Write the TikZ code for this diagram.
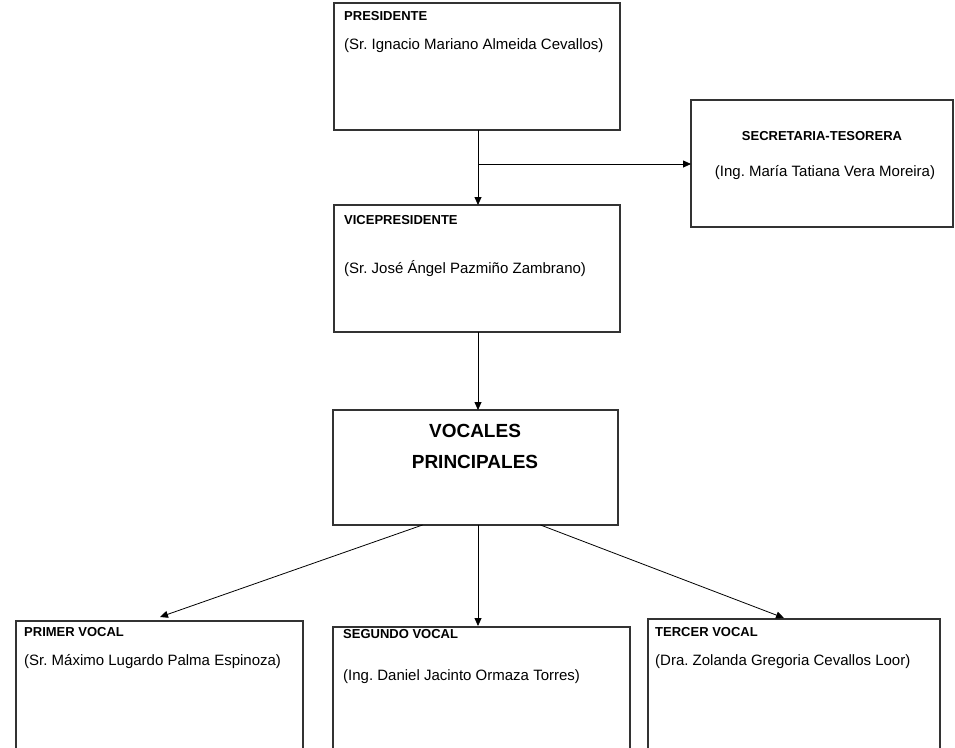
\documentclass[tikz,border=0pt]{standalone}
\usepackage{fontspec}
\setmainfont{Liberation Sans}
\frenchspacing
\usetikzlibrary{arrows.meta,calc}
\begin{document}
\begin{tikzpicture}[x=1pt,y=-1pt,
  box/.style={draw=black!80,line width=1.1pt,anchor=north west,inner sep=0pt,outer sep=0pt},
  ttl/.style={font=\fontsize{13}{15}\selectfont\bfseries,anchor=west,inner sep=0pt},
  nm/.style={font=\fontsize{15}{17}\selectfont,anchor=west,inner sep=0pt},
  arr/.style={line width=0.8pt,-{Triangle[length=8pt,width=7pt]}},
  ln/.style={line width=0.8pt}]
\useasboundingbox (0,0) rectangle (955,747);
\clip (0,0) rectangle (955,747);
\fill[white] (0,0) rectangle (955,747);
% boxes
\node[box,minimum width=286pt,minimum height=127pt] (pres) at (334,3) {};
\node[box,minimum width=262pt,minimum height=127pt] (sec) at (691,100) {};
\node[box,minimum width=286pt,minimum height=127pt] (vice) at (334,205) {};
\node[box,minimum width=285pt,minimum height=115pt] (voc) at (333,410) {};
\node[box,minimum width=287pt,minimum height=140pt] (pri) at (16,621) {};
\node[box,minimum width=297pt,minimum height=140pt] (seg) at (333,627) {};
\node[box,minimum width=292pt,minimum height=140pt] (ter) at (648,619) {};
% texts
\node[ttl] (t1) at (344,16) {PRESIDENTE};
\node[nm] (n1) at (344,46) {(Sr. Ignacio Mariano Almeida Cevallos)};
\node[ttl,anchor=center] (t2) at (822,136) {SECRETARIA-TESORERA};
\node[nm,anchor=center] (n2) at (825,173) {(Ing. María Tatiana Vera Moreira)};
\node[ttl] (t3) at (344,220) {VICEPRESIDENTE};
\node[nm] (n3) at (344,269) {(Sr. José Ángel Pazmiño Zambrano)};
\node[font=\fontsize{19}{31}\selectfont\bfseries,align=center,inner sep=0pt,anchor=north] (t4) at (475,424) {VOCALES\\PRINCIPALES};
\node[ttl] (t5) at (24,632) {PRIMER VOCAL};
\node[nm] (n5) at (24,662) {(Sr. Máximo Lugardo Palma Espinoza)};
\node[ttl] (t6) at (343,634) {SEGUNDO VOCAL};
\node[nm] (n6) at (343,677) {(Ing. Daniel Jacinto Ormaza Torres)};
\node[ttl] (t7) at (655,632) {TERCER VOCAL};
\node[nm] (n7) at (655,662) {(Dra. Zolanda Gregoria Cevallos Loor)};
% connectors
\coordinate (j) at (478,164);
\draw[ln] (pres.south -| j) -- (j);
\draw[arr] (j) -- (vice.north -| j);
\draw[arr] (j) -- (sec.west |- j);
\draw[arr] (vice.south -| j) -- (voc.north -| j);
\coordinate (e1) at (160,617);
\coordinate (e3) at (784,618);
\draw[arr] ($(voc.south)+(-53,0)$) -- (e1);
\draw[arr] (voc.south -| j) -- ($(seg.north -| j)+(0,-1)$);
\draw[arr] ($(voc.south)+(65,0)$) -- (e3);
\end{tikzpicture}
\end{document}
